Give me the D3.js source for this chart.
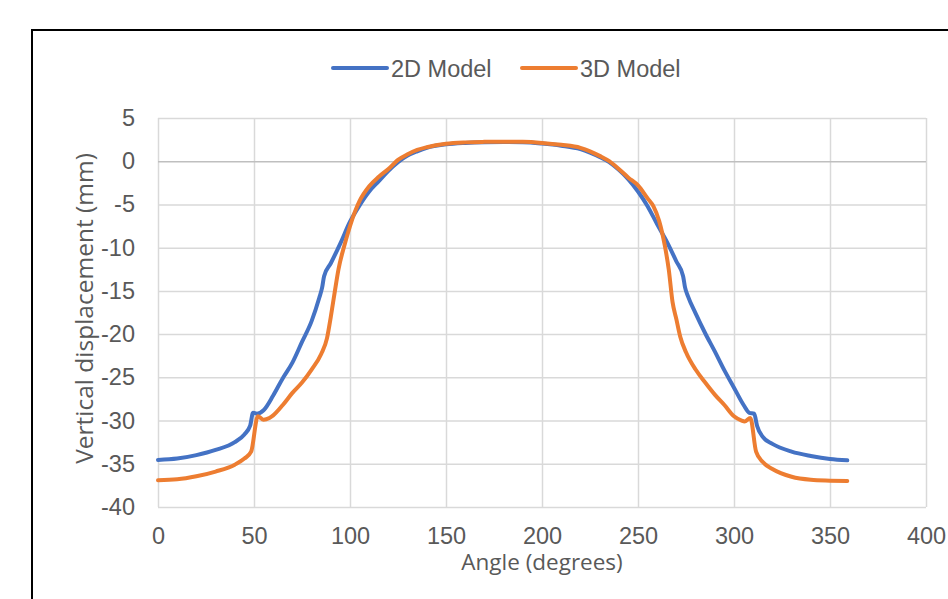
<!DOCTYPE html>
<html>
<head>
<meta charset="utf-8">
<script src="https://cdn.jsdelivr.net/npm/d3@7"></script>
<style>
  body { margin: 0; background: #fff; }
  svg { display: block; }
</style>
</head>
<body>
<svg id="chart" width="948" height="599"></svg>
<script>
// series data
const seriesNames = ["2D Model", "3D Model"];
const seriesColors = ["#4472C4", "#ED7D31"];

const angles2D = [0, 10, 20, 30, 40, 45, 48, 49.5, 51.5, 55, 60, 65, 70, 75, 80, 84, 85.5, 86.5, 90, 95, 100, 105, 110, 115, 120, 125, 130, 135, 140, 150, 160, 170, 180, 190, 200, 210, 220, 225, 230, 235, 240, 245, 250, 255, 260, 265, 270, 273.5, 274.5, 276, 280, 285, 290, 295, 300, 305, 308, 310.5, 312, 315, 320, 330, 340, 350, 359];
const disp2D = [-34.55, -34.4, -34.0, -33.4, -32.5, -31.6, -30.6, -29.1, -29.2, -28.8, -27.1, -25.1, -23.3, -20.9, -18.5, -15.8, -14.6, -13.3, -11.8, -9.5, -7.0, -5.1, -3.5, -2.3, -1.1, -0.1, 0.65, 1.15, 1.55, 1.95, 2.12, 2.2, 2.22, 2.2, 2.05, 1.8, 1.4, 1.0, 0.5, -0.1, -1.0, -2.1, -3.5, -5.2, -7.3, -9.3, -11.6, -13.3, -14.6, -15.6, -17.6, -19.9, -22.0, -24.2, -26.2, -28.2, -29.1, -29.2, -30.6, -31.9, -32.7, -33.6, -34.1, -34.45, -34.6];

const angles3D = [0, 10, 20, 30, 40, 45, 48.5, 52, 55, 58, 60, 65, 70, 75, 80, 85, 88, 90, 92, 94, 97, 100, 105, 110, 115, 120, 125, 130, 135, 140, 150, 160, 170, 180, 190, 200, 210, 220, 225, 230, 235, 240, 245, 250, 255, 258, 261, 264, 266, 268, 270, 272, 275, 280, 285, 290, 295, 300, 304, 305.5, 308.5, 311.5, 315, 320, 330, 340, 350, 359];
const disp3D = [-36.9, -36.8, -36.45, -35.9, -35.1, -34.4, -33.6, -29.5, -29.9, -29.7, -29.4, -28.2, -26.8, -25.6, -24.1, -22.3, -20.5, -18.0, -15.2, -12.5, -9.8, -7.5, -4.6, -2.9, -1.8, -0.9, 0.15, 0.8, 1.3, 1.62, 2.02, 2.18, 2.24, 2.26, 2.24, 2.12, 1.9, 1.55, 1.15, 0.62, 0.0, -0.9, -1.9, -2.8, -4.3, -5.2, -6.9, -9.8, -12.5, -16.3, -18.3, -20.3, -22.1, -24.1, -25.6, -27.0, -28.2, -29.5, -30.0, -30.1, -29.7, -33.6, -34.8, -35.6, -36.5, -36.85, -36.95, -37.0];

const xTicks = [0, 50, 100, 150, 200, 250, 300, 350, 400];
const yTicks = [5, 0, -5, -10, -15, -20, -25, -30, -35, -40];

const xTitle = "Angle (degrees)";
const yTitle = "Vertical displacement (mm)";

const svg = d3.select("#chart");
const plotLeft = 158, plotRight = 926, plotTop = 118, plotBottom = 507;
const tickFont = "'Liberation Sans', Arial, sans-serif";

// outer frame
svg.append("rect")
  .attr("x", 32).attr("y", 30)
  .attr("width", 960).attr("height", 620)
  .attr("fill", "none")
  .attr("stroke", "#000")
  .attr("stroke-width", 2);

const x = d3.scaleLinear().domain([0, 400]).range([plotLeft, plotRight]);
const y = d3.scaleLinear().domain([-40, 5]).range([plotBottom, plotTop]);

// vertical grid + x labels
const xAxis = svg.append("g")
  .attr("transform", `translate(0,${plotBottom})`)
  .call(d3.axisBottom(x).tickValues(xTicks).tickSize(-(plotBottom - plotTop)).tickPadding(20).tickFormat(d => String(d)));
xAxis.select(".domain").remove();
xAxis.selectAll("line").attr("stroke", "#D9D9D9").attr("stroke-width", 1.5);
xAxis.selectAll("text")
  .attr("fill", "#595959")
  .style("font-family", tickFont)
  .style("font-size", "23.5px");

// horizontal grid + y labels
const yAxis = svg.append("g")
  .attr("transform", `translate(${plotLeft},0)`)
  .call(d3.axisLeft(y).tickValues(yTicks).tickSize(-(plotRight - plotLeft)).tickPadding(23).tickFormat(d => String(d)));
yAxis.select(".domain").remove();
yAxis.selectAll("line")
  .attr("stroke", d => d === 0 ? "#BFBFBF" : "#D9D9D9")
  .attr("stroke-width", 1.5);
yAxis.selectAll("text")
  .attr("fill", "#595959")
  .style("font-family", tickFont)
  .style("font-size", "23.5px");
// keep the zero line on top of the vertical grid
yAxis.raise();

// lines
const line = d3.line()
  .x(d => x(d[0]))
  .y(d => y(d[1]))
  .curve(d3.curveMonotoneX);

const series = [
  d3.zip(angles2D, disp2D),
  d3.zip(angles3D, disp3D)
];

svg.append("g").selectAll("path")
  .data(series)
  .join("path")
  .attr("d", line)
  .attr("fill", "none")
  .attr("stroke", (d, i) => seriesColors[i])
  .attr("stroke-width", 4)
  .attr("stroke-linejoin", "round")
  .attr("stroke-linecap", "round");

// axis titles
svg.append("text")
  .attr("x", (plotLeft + plotRight) / 2)
  .attr("y", 570)
  .attr("text-anchor", "middle")
  .attr("fill", "#595959")
  .style("font-family", "'Open Sans', sans-serif")
  .style("font-size", "22.5px")
  .text(xTitle);

svg.append("text")
  .attr("transform", `translate(93,${(plotTop + plotBottom) / 2 - 4}) rotate(-90)`)
  .attr("text-anchor", "middle")
  .attr("fill", "#595959")
  .style("font-family", "'Open Sans', sans-serif")
  .style("font-size", "24.5px")
  .text(yTitle);

// legend
const legendX = [333, 522];
const legend = svg.append("g").selectAll("g")
  .data(seriesNames)
  .join("g")
  .attr("transform", (d, i) => `translate(${legendX[i]},68)`);
legend.append("line")
  .attr("x1", 0).attr("x2", 54)
  .attr("stroke", (d, i) => seriesColors[i])
  .attr("stroke-width", 4)
  .attr("stroke-linecap", "round");
legend.append("text")
  .attr("x", 58)
  .attr("y", 8.5)
  .attr("fill", "#595959")
  .style("font-family", tickFont)
  .style("font-size", "23.5px")
  .text(d => d);
</script>
</body>
</html>
